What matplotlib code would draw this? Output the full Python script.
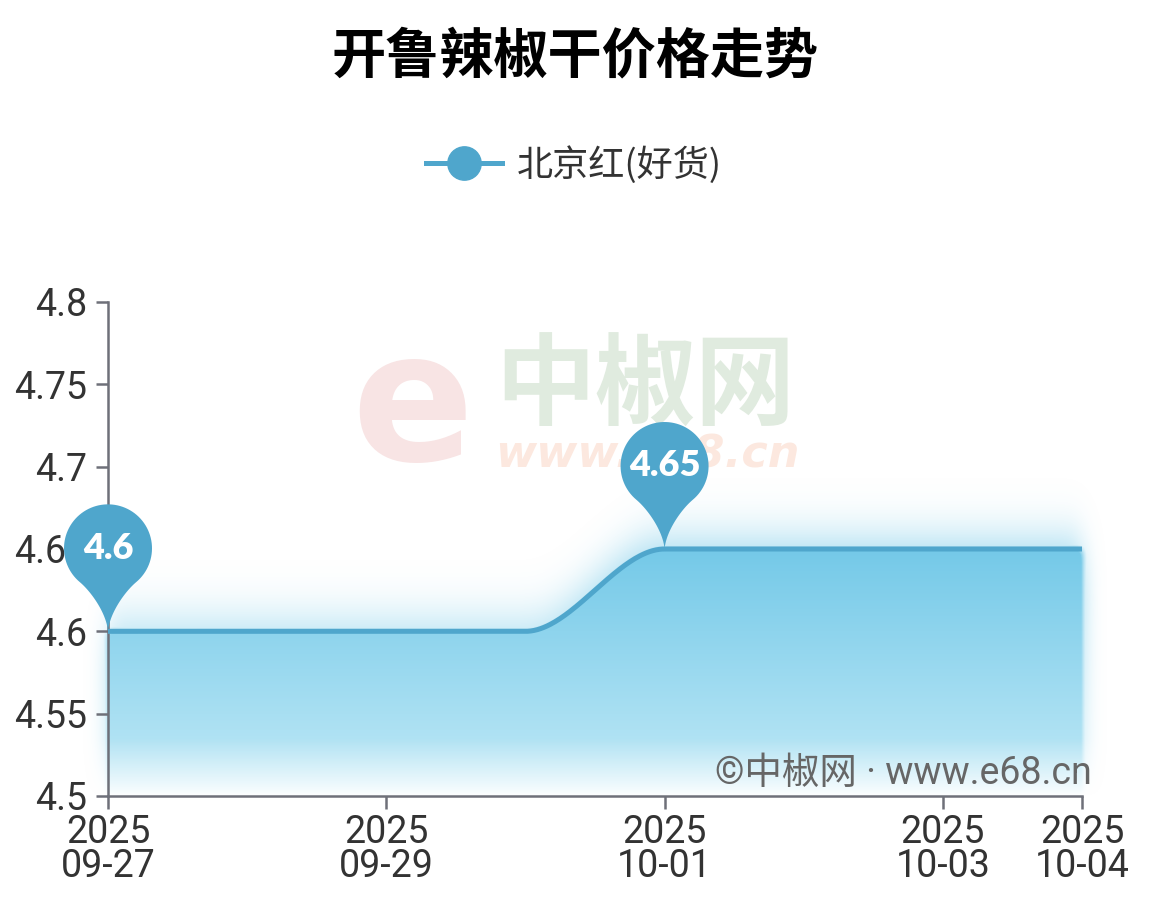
import numpy as np
import pandas as pd
import matplotlib
matplotlib.use('Agg')
import matplotlib.pyplot as plt
from matplotlib.lines import Line2D
from matplotlib.patches import Polygon
from matplotlib.transforms import IdentityTransform

plt.rcParams['font.family'] = ['Noto Sans CJK SC', 'DejaVu Sans']

title = '开鲁辣椒干价格走势'
series_name = '北京红(好货)'
dates = ['2025-09-27', '2025-09-28', '2025-09-29', '2025-09-30',
         '2025-10-01', '2025-10-02', '2025-10-03', '2025-10-04']
prices = [4.6, 4.6, 4.6, 4.6, 4.65, 4.65, 4.65, 4.65]
tick_dates = ['2025-09-27', '2025-09-29', '2025-10-01', '2025-10-03', '2025-10-04']
y_ticks = [4.5, 4.55, 4.6, 4.65, 4.7, 4.75, 4.8]
credit = '©中椒网 · www.e68.cn'

line_color = '#4fa6cc'
axis_color = '#6e7079'
text_color = '#333333'

t0 = pd.Timestamp(dates[0])
xd = np.array([(pd.Timestamp(d) - t0).days for d in dates], dtype=float)
yv = np.array(prices)
span = xd[-1]


def pchip(x, y, xs):
    h = np.diff(x)
    d = np.diff(y) / h
    m = np.zeros(len(x))
    m[0], m[-1] = d[0], d[-1]
    for k in range(1, len(x) - 1):
        if d[k - 1] * d[k] > 0:
            w1 = 2 * h[k] + h[k - 1]
            w2 = h[k] + 2 * h[k - 1]
            m[k] = (w1 + w2) / (w1 / d[k - 1] + w2 / d[k])
    idx = np.clip(np.searchsorted(x, xs) - 1, 0, len(x) - 2)
    hh = h[idx]
    t = (xs - x[idx]) / hh
    h00 = 2 * t**3 - 3 * t**2 + 1
    h10 = t**3 - 2 * t**2 + t
    h01 = -2 * t**3 + 3 * t**2
    h11 = t**3 - t**2
    return h00 * y[idx] + h10 * hh * m[idx] + h01 * y[idx + 1] + h11 * hh * m[idx + 1]


def blur(a, sx, sy):
    kx = np.exp(-0.5 * (np.arange(-3 * sx, 3 * sx + 1) / sx) ** 2)
    ky = np.exp(-0.5 * (np.arange(-3 * sy, 3 * sy + 1) / sy) ** 2)
    a = np.apply_along_axis(lambda r: np.convolve(r, kx / kx.sum(), mode='same'), 1, a)
    a = np.apply_along_axis(lambda c: np.convolve(c, ky / ky.sum(), mode='same'), 0, a)
    return a


fig = plt.figure(figsize=(11.5, 9.15), dpi=100)
ax = fig.add_axes([108 / 1150, 119 / 915, 974 / 1150, 494 / 915])
ax.patch.set_alpha(0)
ylo, yhi = y_ticks[0], y_ticks[-1]
ax.set_xlim(0, span)
ax.set_ylim(ylo, yhi)

# background watermark
fig.text(412 / 1150, 1 - 410 / 915, 'e', fontsize=130, weight='bold', color='#f8e4e4',
         ha='center', va='center', family='DejaVu Sans', zorder=-2)
fig.text(645 / 1150, 1 - 388 / 915, '中椒网', fontsize=72, weight='bold', color='#e0ebdf',
         ha='center', va='center', zorder=-2)
fig.text(647 / 1150, 1 - 455 / 915, 'www.e68.cn', fontsize=32, weight='bold', color='#fce8df',
         style='italic', ha='center', va='center', family='DejaVu Sans', zorder=-2)

# soft gradient area
W, H = ax.bbox.width, ax.bbox.height
pad = 80
xs = np.arange(-pad, W + pad) + 0.5
ys = np.arange(-pad, H + pad) + 0.5
day = xs / W * span
val = ylo + ys / H * (yhi - ylo)
curve = pchip(xd, yv, np.clip(day, 0, span))
DD, VV = np.meshgrid(day, val)
CC = np.tile(curve, (len(val), 1))
mask = ((DD >= 0) & (DD <= span) & (VV >= ylo) & (VV <= CC)).astype(float)
core = np.clip(blur(mask, 4, 5) * 1.7, 0, 1)
glow = blur(mask, 10, 28) * 0.9
alpha = np.maximum(core, glow)
alpha *= np.clip((VV - ylo) / 0.035, 0, 1) ** 0.8
top = np.array([116, 201, 232]) / 255
bot = np.array([194, 234, 247]) / 255
t = np.clip((VV - ylo) / 0.15, 0, 1)[..., None]
rgba = np.concatenate([bot + (top - bot) * t, alpha[..., None]], axis=2)
ax.imshow(rgba, origin='lower', aspect='auto', interpolation='bilinear',
          extent=[-pad / W * span, (W + pad) / W * span,
                  ylo - pad / H * (yhi - ylo), yhi + pad / H * (yhi - ylo)],
          clip_on=False, zorder=1)

xs_line = np.linspace(0, span, 600)
ax.plot(xs_line, pchip(xd, yv, xs_line), color=line_color, lw=3.6,
        solid_capstyle='butt', zorder=3, clip_on=False)

ax.set_xlim(0, span)
ax.set_ylim(ylo, yhi)

# axes styling
for s in ['top', 'right']:
    ax.spines[s].set_visible(False)
for s in ['left', 'bottom']:
    ax.spines[s].set_color(axis_color)
    ax.spines[s].set_linewidth(1.8)
ax.set_yticks(y_ticks)
ax.set_yticklabels([f'{v:g}' for v in y_ticks])
xt = [(pd.Timestamp(d) - t0).days for d in tick_dates]
ax.set_xticks(xt)
ax.set_xticklabels([pd.Timestamp(d).strftime('%Y\n%m-%d') for d in tick_dates],
                   linespacing=0.9)
ax.tick_params(axis='both', colors=axis_color, length=9, width=1.8,
               labelsize=27, labelcolor=text_color)
ax.tick_params(axis='y', pad=6)
ax.tick_params(axis='x', pad=4)
for lab in ax.get_xticklabels() + ax.get_yticklabels():
    lab.set_family('Roboto')

# title and legend
fig.text(0.5, 1 - 57 / 915, title, fontsize=39, weight='bold', color='#000000',
         ha='center', va='center')
handle = Line2D([], [], color=line_color, lw=3.6, marker='o', ms=24, label=series_name)
ax.legend(handles=[handle], loc='center', bbox_to_anchor=(574 / 1150, 1 - 165 / 915),
          bbox_transform=fig.transFigure, frameon=False, handlelength=2.1,
          handletextpad=0.4, labelcolor=text_color,
          prop={'family': ['Noto Sans CJK SC', 'DejaVu Sans'], 'size': 26})

fig.text(1092 / 1150, 1 - 773 / 915, credit, fontsize=27, color='#666666',
         ha='right', va='center', zorder=4, family=['Roboto', 'Noto Sans CJK SC'])

# pins for min and max
R, cy = 44, 83
ang = np.radians(np.linspace(-50, 230, 80))
arc = np.column_stack([R * np.cos(ang), cy + R * np.sin(ang)])
L = arc[-1]
tv = np.array([-np.sin(ang[-1]), np.cos(ang[-1])])
P1 = L + tv * 15
P2 = np.array([-1.5, 18.0])
tb = np.linspace(0, 1, 30)[:, None]
left = (1 - tb)**3 * L + 3 * (1 - tb)**2 * tb * P1 + 3 * (1 - tb) * tb**2 * P2
right = left[::-1] * np.array([-1, 1])
pin_shape = np.vstack([arc, left, right[1:]])

for i in [int(np.argmin(yv)), int(np.argmax(yv))]:
    px, py = ax.transData.transform((xd[i], yv[i]))
    fig.add_artist(Polygon(pin_shape + [px, py], closed=True, facecolor=line_color,
                           edgecolor='none', transform=IdentityTransform(), zorder=5))
    fig.text(px, py + cy, f'{yv[i]:g}', transform=IdentityTransform(), color='white',
             fontsize=26, weight='heavy', family='Lato', ha='center', va='center', zorder=6)

fig.savefig('out.png', dpi=100)
